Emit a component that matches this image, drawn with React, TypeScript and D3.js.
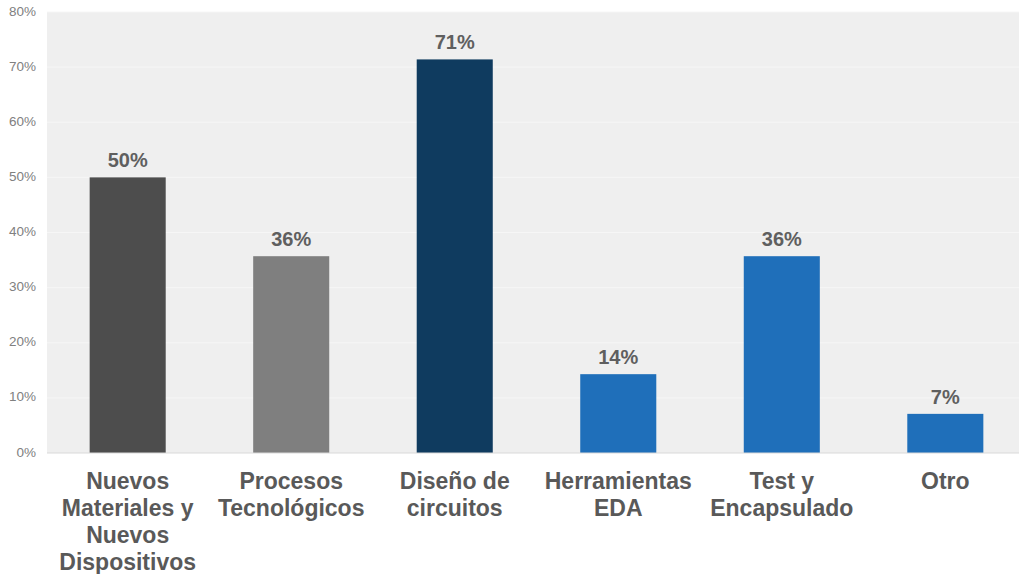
import { useEffect, useRef } from 'react'
import * as d3 from 'd3'

const CATEGORIES = [
  ['Nuevos', 'Materiales y', 'Nuevos', 'Dispositivos'],
  ['Procesos', 'Tecnológicos'],
  ['Diseño de', 'circuitos'],
  ['Herramientas', 'EDA'],
  ['Test y', 'Encapsulado'],
  ['Otro'],
]
const VALUES = [50, 35.7, 71.4, 14.3, 35.7, 7.1]
const BAR_COLORS = ['#4d4d4d', '#7f7f7f', '#0f3b5f', '#1f6fba', '#1f6fba', '#1f6fba']
const Y_TICKS = [0, 10, 20, 30, 40, 50, 60, 70, 80]

export default function App() {
  const svgRef = useRef<SVGSVGElement>(null)
  const WIDTH = 1019
  const HEIGHT = 574
  const M = { top: 12, left: 47, bottom: 121 }
  const plotBottom = HEIGHT - M.bottom

  useEffect(() => {
    if (!svgRef.current) return
    const svg = d3.select(svgRef.current)
    svg.selectAll('*').remove()

    const x = d3.scaleBand<number>()
      .domain(d3.range(CATEGORIES.length))
      .range([M.left - 1, 1027])
      .paddingInner(0.535)
      .paddingOuter(0.267)
    const y = d3.scaleLinear().domain([0, 80]).range([plotBottom, M.top])

    // plot background
    svg.append('rect')
      .attr('x', M.left).attr('y', y(80))
      .attr('width', WIDTH - M.left).attr('height', y(0) - y(80))
      .attr('fill', '#efefef')

    // gridlines
    svg.append('g').selectAll('line').data(Y_TICKS.slice(1)).join('line')
      .attr('x1', M.left).attr('x2', WIDTH)
      .attr('y1', d => y(d)).attr('y2', d => y(d))
      .attr('stroke', '#f6f6f6').attr('stroke-width', 1)

    // y tick labels
    svg.append('g').selectAll('text').data(Y_TICKS).join('text')
      .attr('x', 36).attr('y', d => y(d))
      .attr('text-anchor', 'end').attr('dominant-baseline', 'middle')
      .attr('font-family', 'Liberation Sans, Arial, sans-serif')
      .attr('font-size', 13.5).attr('fill', '#808080')
      .text(d => `${d}%`)

    // bars
    svg.append('g').selectAll('rect').data(VALUES).join('rect')
      .attr('x', (_, i) => x(i)!)
      .attr('y', d => y(d))
      .attr('width', x.bandwidth())
      .attr('height', d => y(0) - y(d))
      .attr('fill', (_, i) => BAR_COLORS[i])

    // baseline
    svg.append('line')
      .attr('x1', M.left).attr('x2', WIDTH)
      .attr('y1', y(0)).attr('y2', y(0))
      .attr('stroke', '#d9d9d9').attr('stroke-width', 1)

    // value labels
    svg.append('g').selectAll('text').data(VALUES).join('text')
      .attr('x', (_, i) => x(i)! + x.bandwidth() / 2)
      .attr('y', d => y(d) - 10)
      .attr('text-anchor', 'middle')
      .attr('font-family', 'Liberation Sans, Arial, sans-serif')
      .attr('font-size', 20).attr('font-weight', 'bold').attr('fill', '#5f5f5f')
      .text(d => `${Math.round(d)}%`)

    // category labels
    CATEGORIES.forEach((lines, i) => {
      const t = svg.append('text')
        .attr('x', x(i)! + x.bandwidth() / 2)
        .attr('y', plotBottom + 36)
        .attr('text-anchor', 'middle')
        .attr('font-family', 'Liberation Sans, Arial, sans-serif')
        .attr('font-size', 23).attr('font-weight', 'bold').attr('fill', '#595959')
      lines.forEach((ln, j) => {
        t.append('tspan').attr('x', x(i)! + x.bandwidth() / 2).attr('dy', j === 0 ? 0 : 27).text(ln)
      })
    })
  }, [])

  return (
    <svg
      ref={svgRef}
      width={WIDTH}
      height={HEIGHT}
      style={{ position: 'absolute', left: 0, top: 0, background: '#fff' }}
    />
  )
}
